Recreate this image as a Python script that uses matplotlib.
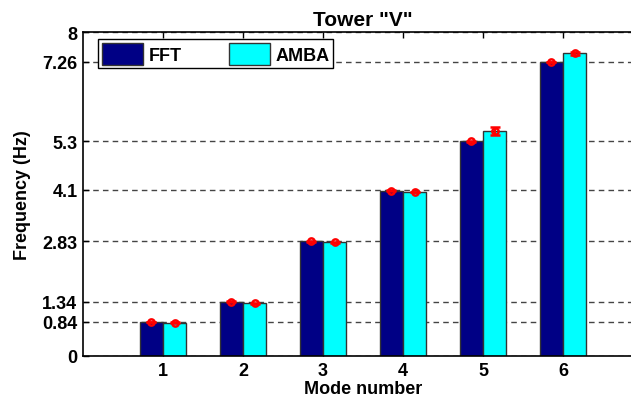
import matplotlib
matplotlib.use('Agg')
import matplotlib.pyplot as plt
import numpy as np

modes = [1, 2, 3, 4, 5, 6]
fft = [0.84, 1.34, 2.83, 4.08, 5.3, 7.26]
amba = [0.82, 1.30, 2.81, 4.05, 5.55, 7.47]
fft_err = [0.01, 0.01, 0.01, 0.01, 0.01, 0.01]
amba_err = [0.01, 0.01, 0.01, 0.01, 0.10, 0.03]
yticks = [0, 0.84, 1.34, 2.83, 4.1, 5.3, 7.26, 8]
ytick_labels = ['0', '0.84', '1.34', '2.83', '4.1', '5.3', '7.26', '8']

plt.rcParams['font.family'] = ['Liberation Sans', 'DejaVu Sans']
plt.rcParams['font.weight'] = 'bold'
plt.rcParams['font.size'] = 13

fig = plt.figure(figsize=(6.31, 4.06), dpi=100)
W, H = 631, 406
ax = fig.add_axes([83 / W, (H - 357) / H, (643 - 83) / W, (357 - 33) / H])

x = np.array(modes)
w = 0.29
ax.bar(x - w / 2, fft, w, color='#000085', edgecolor='#333333', linewidth=1, label='FFT', zorder=2)
ax.bar(x + w / 2, amba, w, color='#00FFFF', edgecolor='#333333', linewidth=1, label='AMBA', zorder=2)
ax.errorbar(x - w / 2, fft, yerr=fft_err, fmt='o', color='red', mfc='none', ms=4.5, mew=1.8,
            capsize=3.5, elinewidth=1.5, zorder=3)
ax.errorbar(x + w / 2, amba, yerr=amba_err, fmt='o', color='red', mfc='none', ms=4.5, mew=1.8,
            capsize=3.5, elinewidth=1.5, zorder=3)

ax.set_xlim(0, 7)
ax.set_ylim(0, 8)
ax.set_xticks(modes)
ax.set_yticks(yticks)
ax.set_yticklabels(ytick_labels)
ax.yaxis.grid(True, linestyle=(0, (4, 3)), color='#444444', linewidth=1)
ax.set_axisbelow(True)
ax.tick_params(direction='in', top=True, right=True, length=4, width=1, pad=4)
for s in ax.spines.values():
    s.set_linewidth(1.2)

ax.set_xlabel('Mode number', fontweight='bold', labelpad=1)
ax.set_ylabel('Frequency (Hz)', fontweight='bold', labelpad=8)
ax.set_title('Tower "V"', fontweight='bold', pad=5, fontsize=15)

leg = ax.legend(loc='upper left', bbox_to_anchor=(0.027, 0.978), ncol=2, fancybox=False,
                framealpha=1, edgecolor='black', handlelength=2.3, handleheight=1.5,
                columnspacing=2.6, handletextpad=0.3, borderpad=0.2, borderaxespad=0)
leg.get_frame().set_linewidth(1)

fig.savefig('out.png', dpi=100)
